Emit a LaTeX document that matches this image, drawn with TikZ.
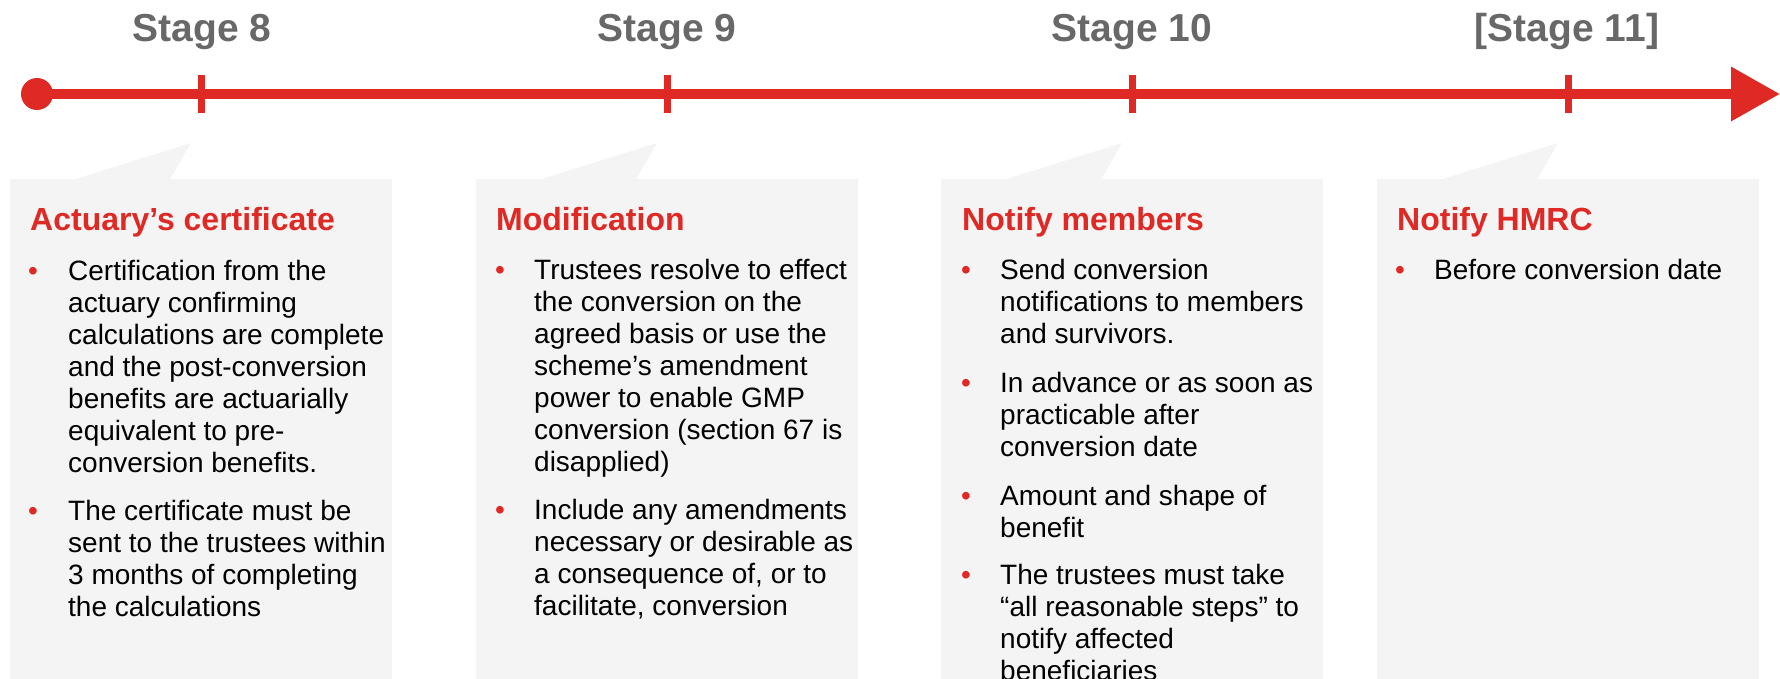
\documentclass[tikz,border=0pt]{standalone}
\usepackage{fontspec}
\setmainfont{Liberation Sans}
\usetikzlibrary{arrows.meta}
\definecolor{tlred}{RGB}{222,41,36}
\definecolor{stagegray}{RGB}{104,104,104}
\definecolor{boxgray}{RGB}{244,244,244}
\begin{document}
\begin{tikzpicture}[x=1pt,y=-1pt,
  stagelbl/.style={anchor=base, font=\fontsize{39}{44}\selectfont\bfseries, text=stagegray, inner sep=0},
  ticknode/.style={fill=tlred, minimum width=7pt, minimum height=38pt, inner sep=0, draw=none},
  boxhead/.style={anchor=base west, font=\fontsize{32}{36}\selectfont\bfseries, text=tlred, inner sep=0},
  bodytxt/.style={anchor=base west, align=left, font=\fontsize{28}{32}\selectfont, inner sep=0},
  bulletmark/.style={anchor=base, font=\fontsize{28}{32}\selectfont, text=tlred, inner sep=0},
  panel/.style={fill=boxgray, draw=none}]
\useasboundingbox (0,0) rectangle (1780,679);
\clip (0,0) rectangle (1780,679);

% panels with callout pointers
\foreach \L in {10,476,941,1377}{
  \fill[boxgray] (\L,179) rectangle ++(382,520);
  \fill[boxgray] (\L+64,179.5) -- (\L+181,143) -- (\L+160,179.5) -- cycle;
}

% timeline
\node[circle, fill=tlred, minimum size=32pt, inner sep=0] (start) at (37,94) {};
\coordinate (end) at (1780,94);
\draw[tlred, line width=10pt, -{Triangle[length=49pt,width=52pt]}] (start.center) -- (end);
\node[ticknode] (t8) at (201,94) {};
\node[ticknode] (t9) at (667,94) {};
\node[ticknode] (t10) at (1132,94) {};
\node[ticknode] (t11) at (1568,94) {};

\node[stagelbl] (s8) at (202,42) {Stage 8};
\node[stagelbl] (s9) at (667,42) {Stage 9};
\node[stagelbl] (s10) at (1132,42) {Stage 10};
\node[stagelbl] (s11) at (1567,42) {[Stage 11]};

% box 1 (multi-line nodes are placed by the baseline of their last line)
\node[boxhead] (h1) at (30,230) {Actuary’s certificate};
\node[bulletmark] (b1a) at (33,280) {•};
\node[bodytxt] (p1a) at (68,472) {Certification from the\\actuary confirming\\calculations are complete\\and the post-conversion\\benefits are actuarially\\equivalent to pre-\\conversion benefits.};
\node[bulletmark] (b1b) at (33,520) {•};
\node[bodytxt] (p1b) at (68,616) {The certificate must be\\sent to the trustees within\\3 months of completing\\the calculations};

% box 2
\node[boxhead] (h2) at (496,230) {Modification};
\node[bulletmark] (b2a) at (500,279) {•};
\node[bodytxt] (p2a) at (534,471) {Trustees resolve to effect\\the conversion on the\\agreed basis or use the\\scheme’s amendment\\power to enable GMP\\conversion (section 67 is\\disapplied)};
\node[bulletmark] (b2b) at (500,519) {•};
\node[bodytxt] (p2b) at (534,615) {Include any amendments\\necessary or desirable as\\a consequence of, or to\\facilitate, conversion};

% box 3
\node[boxhead] (h3) at (962,230) {Notify members};
\node[bulletmark] (b3a) at (966,279) {•};
\node[bodytxt] (p3a) at (1000,343) {Send conversion\\notifications to members\\and survivors.};
\node[bulletmark] (b3b) at (966,392) {•};
\node[bodytxt] (p3b) at (1000,456) {In advance or as soon as\\practicable after\\conversion date};
\node[bulletmark] (b3c) at (966,505) {•};
\node[bodytxt] (p3c) at (1000,537) {Amount and shape of\\benefit};
\node[bulletmark] (b3d) at (966,584) {•};
\node[bodytxt] (p3d) at (1000,680) {The trustees must take\\“all reasonable steps” to\\notify affected\\beneficiaries};

% box 4
\node[boxhead] (h4) at (1397,230) {Notify HMRC};
\node[bulletmark] (b4a) at (1400,279) {•};
\node[bodytxt] (p4a) at (1434,279) {Before conversion date};
\end{tikzpicture}
\end{document}
